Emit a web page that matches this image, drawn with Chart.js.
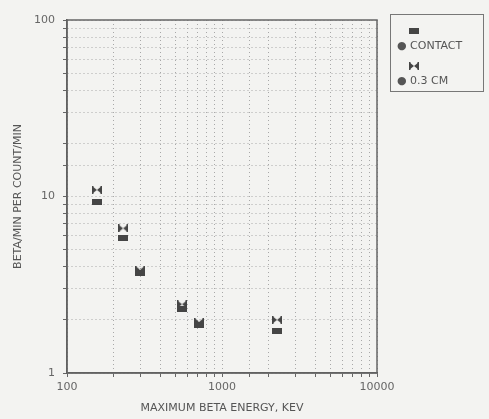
<!DOCTYPE html>
<html>
<head>
<meta charset="utf-8">
<script src="https://cdn.jsdelivr.net/npm/chart.js@4/dist/chart.umd.min.js"></script>
<style>
  html, body { margin: 0; padding: 0; background: #f3f3f1; }
  #wrap { position: relative; width: 489px; height: 419px; }
  #legend {
    position: absolute; left: 390px; top: 14px; width: 94px; height: 78px;
    border: 1.5px solid #777; box-sizing: border-box;
    font: 11px "DejaVu Sans", sans-serif; color: #555;
  }
  #legend .row { position: absolute; left: 6px; }
  #legend canvas { position: absolute; }
</style>
</head>
<body>
<div id="wrap">
  <canvas id="chart" width="489" height="419"></canvas>
  <div id="legend">
    <canvas id="lg1" width="10" height="6" style="left:18px;top:13px"></canvas>
    <div class="row" style="top:24px">● CONTACT</div>
    <canvas id="lg2" width="10" height="8" style="left:18px;top:47px"></canvas>
    <div class="row" style="top:59px">● 0.3 CM</div>
  </div>
</div>
<script>
// maximum beta energy, keV
const energies = [156, 230, 296, 552, 711, 2264];
// beta/min per count/min
const contact = [9.3, 5.8, 3.7, 2.3, 1.88, 1.73];
const cm03 = [10.9, 6.6, 3.85, 2.45, 1.95, 2.0];

const ink = "#454545";

// flat filled bar marker for CONTACT
function rectMarker(c) {
  c = c || document.createElement("canvas");
  c.width = 10; c.height = 6;
  const g = c.getContext("2d");
  g.fillStyle = ink;
  g.fillRect(0, 0, 10, 6);
  return c;
}

// sideways bowtie marker for 0.3 CM
function bowtieMarker(c) {
  c = c || document.createElement("canvas");
  c.width = 10; c.height = 8;
  const g = c.getContext("2d");
  g.fillStyle = ink;
  g.beginPath();
  g.moveTo(0, 0); g.lineTo(5, 4); g.lineTo(0, 8); g.closePath();
  g.moveTo(10, 0); g.lineTo(5, 4); g.lineTo(10, 8); g.closePath();
  g.fill();
  g.fillRect(0, 0, 1.5, 8);
  g.fillRect(8.5, 0, 1.5, 8);
  return c;
}

rectMarker(document.getElementById("lg1"));
bowtieMarker(document.getElementById("lg2"));

const isDecade = (v) => Math.abs(Math.log10(v) - Math.round(Math.log10(v))) < 1e-9;

// solid frame round the plot area
const frame = {
  id: "frame",
  beforeDatasetsDraw(chart) {
    const { ctx, chartArea: a } = chart;
    ctx.save();
    ctx.strokeStyle = "#666";
    ctx.lineWidth = 1.5;
    ctx.strokeRect(a.left, a.top, a.right - a.left, a.bottom - a.top);
    ctx.restore();
  },
};

const font = { family: "'DejaVu Sans', sans-serif", size: 11 };

new Chart(document.getElementById("chart"), {
  type: "scatter",
  data: {
    datasets: [
      {
        label: "CONTACT",
        data: energies.map((x, i) => ({ x, y: contact[i] })),
        pointStyle: rectMarker(),
      },
      {
        label: "0.3 CM",
        data: energies.map((x, i) => ({ x, y: cm03[i] })),
        pointStyle: bowtieMarker(),
      },
    ],
  },
  options: {
    responsive: false,
    animation: false,
    layout: { padding: { top: 20, right: 112, left: 0, bottom: 0 } },
    plugins: { legend: { display: false }, tooltip: { enabled: false } },
    scales: {
      x: {
        type: "logarithmic",
        min: 100,
        max: 10000,
        afterFit: (s) => { s.height = 46; },
        grid: { color: "#a8a8a8", lineWidth: 1, tickLength: 4, tickColor: "#666" },
        border: { color: "#555", width: 1.5, dash: [1, 3] },
        ticks: {
          autoSkip: false,
          maxRotation: 0,
          color: "#666",
          font,
          padding: 4,
          callback: (v) => (isDecade(v) ? String(v) : ""),
        },
        title: { display: true, text: "MAXIMUM BETA ENERGY, KEV", color: "#555", font, padding: { top: 0 } },
      },
      y: {
        type: "logarithmic",
        min: 1,
        max: 100,
        afterFit: (s) => { s.width = 67; },
        grid: { color: "#a8a8a8", lineWidth: 1, tickLength: 4, tickColor: "#666" },
        border: { color: "#555", width: 1.5, dash: [1, 3] },
        ticks: {
          autoSkip: false,
          color: "#666",
          font,
          padding: 8,
          callback: (v) => (isDecade(v) ? String(v) : ""),
        },
        title: { display: true, text: "BETA/MIN PER COUNT/MIN", color: "#555", font, padding: { top: 12, bottom: 0 } },
      },
    },
  },
  plugins: [frame],
});
</script>
</body>
</html>
